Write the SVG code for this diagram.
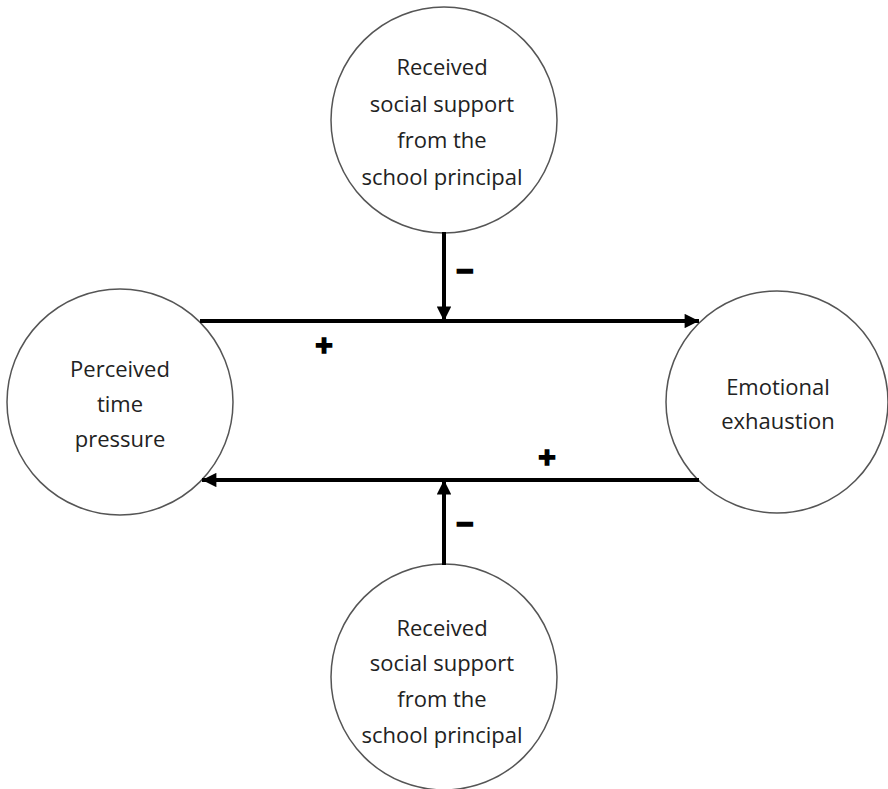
<svg xmlns="http://www.w3.org/2000/svg" width="888" height="789" viewBox="0 0 888 789">
<style>
.node{fill:#fff;stroke:#555;stroke-width:1.5}
.lbl{font-family:"Open Sans","Liberation Sans",sans-serif;font-size:22px;fill:#222;text-anchor:middle}
.edge{stroke:#000;stroke-width:4;fill:none}
.sign{font-family:"Liberation Sans",sans-serif;font-weight:bold;font-size:30px;fill:#000;stroke:#000;stroke-width:1.5;text-anchor:middle}
</style>
<defs>
<marker id="ah" viewBox="0 0 10 10" refX="10" refY="5" markerWidth="4.4" markerHeight="3.6" orient="auto" markerUnits="strokeWidth">
<path d="M0,0 L10,5 L0,10 z" fill="#000"/>
</marker>
</defs>
<rect width="888" height="789" fill="#fff"/>
<g id="top-support">
<circle class="node" cx="444" cy="120" r="113"/>
<text class="lbl" x="442" y="75">Received</text>
<text class="lbl" x="442" y="112">social support</text>
<text class="lbl" x="442" y="148">from the</text>
<text class="lbl" x="442" y="185">school principal</text>
</g>
<g id="time-pressure">
<circle class="node" cx="120" cy="402" r="113"/>
<text class="lbl" x="120" y="377">Perceived</text>
<text class="lbl" x="120" y="412">time</text>
<text class="lbl" x="120" y="447">pressure</text>
</g>
<g id="emotional-exhaustion">
<circle class="node" cx="777" cy="402" r="111"/>
<text class="lbl" x="778" y="395">Emotional</text>
<text class="lbl" x="778" y="429">exhaustion</text>
</g>
<g id="bottom-support">
<circle class="node" cx="444" cy="677" r="113"/>
<text class="lbl" x="442" y="636">Received</text>
<text class="lbl" x="442" y="671">social support</text>
<text class="lbl" x="442" y="707">from the</text>
<text class="lbl" x="442" y="743">school principal</text>
</g>
<g id="connectors">
<line class="edge" x1="200" y1="321" x2="699" y2="321" marker-end="url(#ah)"/>
<line class="edge" x1="444" y1="232" x2="444" y2="321" marker-end="url(#ah)"/>
<line class="edge" x1="699" y1="480" x2="202" y2="480" marker-end="url(#ah)"/>
<line class="edge" x1="444" y1="565" x2="444" y2="480" marker-end="url(#ah)"/>
<text class="sign" x="324" y="355">+</text>
<text class="sign" x="547" y="467">+</text>
<text class="sign" x="465" y="281">−</text>
<text class="sign" x="465" y="534">−</text>
</g>
</svg>
